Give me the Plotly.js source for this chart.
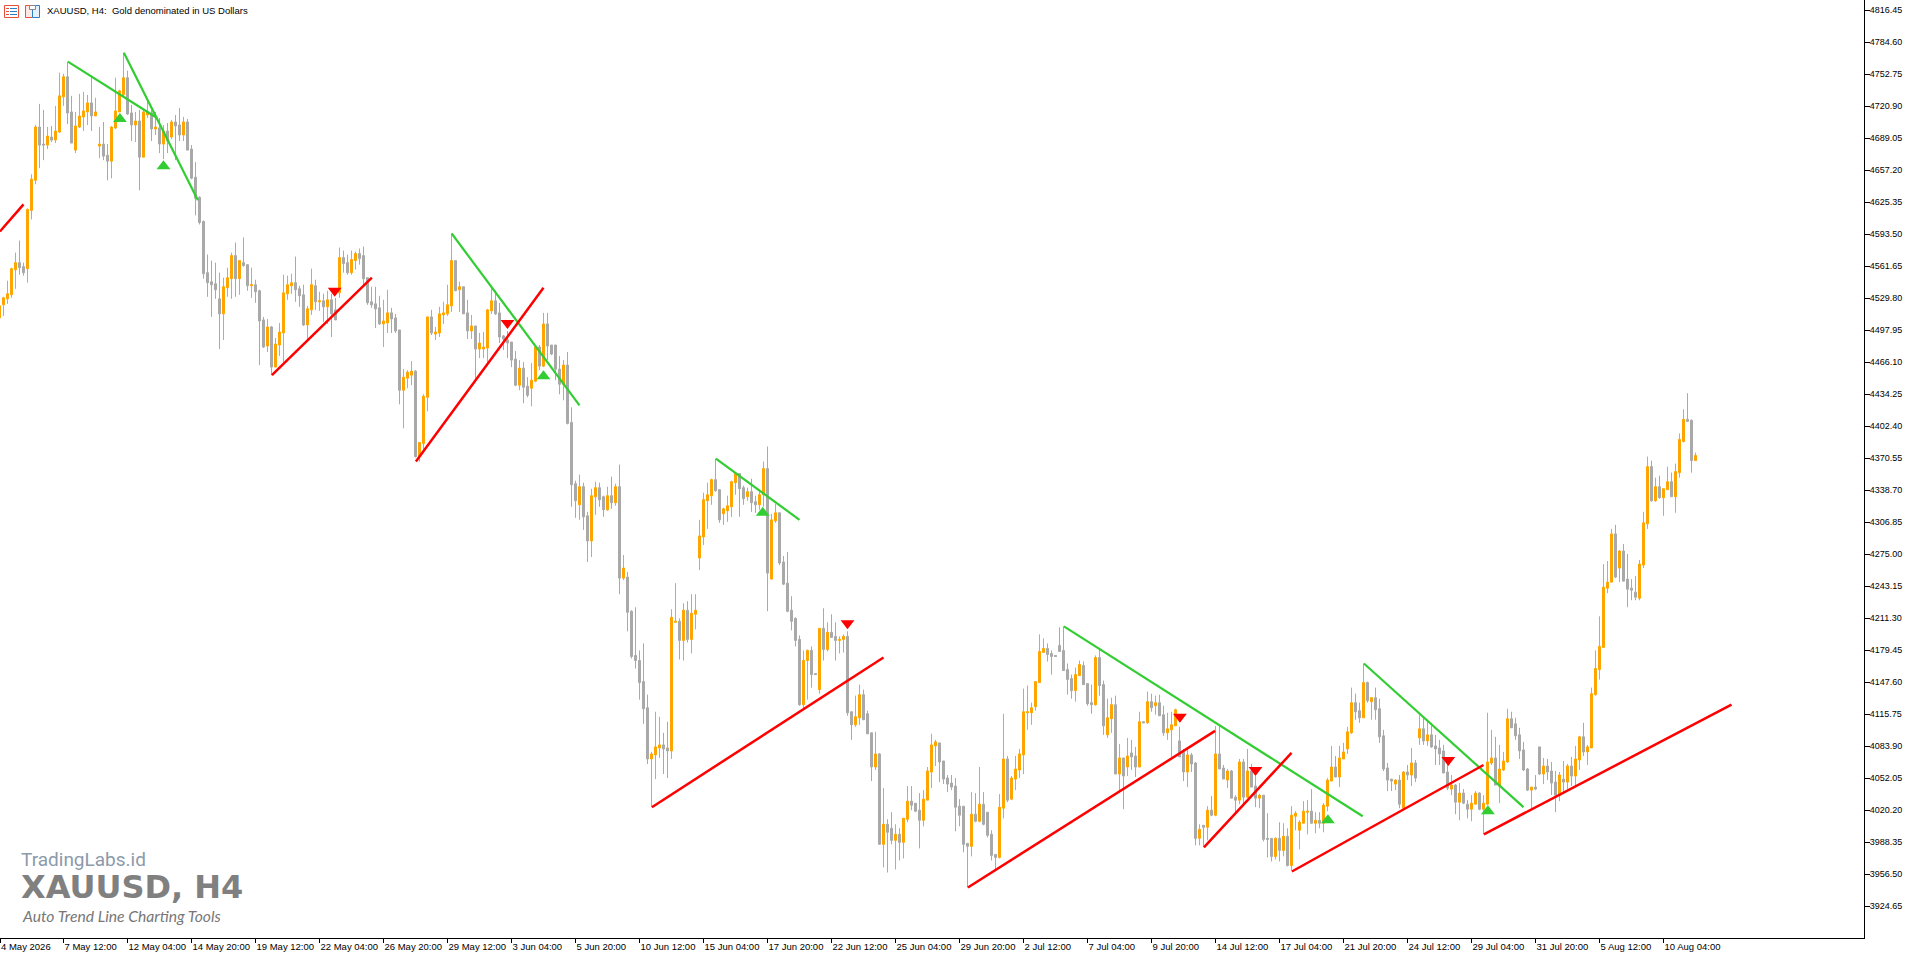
<!DOCTYPE html>
<html><head><meta charset="utf-8">
<script src="https://cdn.plot.ly/plotly-3.0.1.min.js"></script>
<style>html,body{margin:0;padding:0;background:#fff;overflow:hidden}#c{width:1916px;height:959px}</style>
</head><body><div id="c"></div>
<script>
const firstBar = -1;
const openP = [4510,
4523,4529,4533,4558,4565,4561,4559,4617,4647,4700,
4683,4682,4690,4687,4695,4730,4750,4715,4677,4700,
4710,4715,4724,4711,4681,4683,4672,4666,4699,4715,
4732,4749,4714,4702,4706,4670,4712,4714,4698,4699,
4683,4696,4690,4705,4702,4692,4705,4678,4650,4630,
4606,4555,4546,4544,4529,4514,4540,4549,4572,4549,
4565,4563,4542,4543,4537,4508,4482,4501,4461,4483,
4495,4534,4542,4545,4539,4533,4503,4518,4542,4526,
4527,4521,4528,4518,4535,4570,4565,4555,4567,4574,
4572,4550,4526,4524,4520,4504,4505,4515,4510,4498,
4438,4450,4453,4457,4372,4385,4431,4511,4494,4495,
4513,4514,4522,4567,4538,4541,4515,4497,4502,4479,
4479,4480,4517,4527,4515,4492,4488,4486,4469,4443,
4460,4442,4440,4447,4481,4462,4504,4483,4483,4459,
4444,4463,4406,4345,4324,4342,4313,4288,4332,4341,
4332,4319,4333,4326,4342,4251,4252,4218,4174,4169,
4148,4122,4071,4075,4082,4085,4082,4079,4207,4208,
4189,4219,4190,4215,4271,4292,4328,4333,4349,4339,
4315,4318,4322,4346,4355,4341,4332,4337,4327,4324,
4334,4360,4250,4308,4316,4267,4246,4219,4211,4190,
4125,4169,4179,4156,4140,4201,4180,4197,4193,4189,
4190,4193,4118,4105,4112,4135,4116,4097,4063,4076,
3986,4006,4002,3990,3996,3988,4011,4029,4027,4020,
4010,4030,4058,4084,4087,4069,4052,4047,4044,4024,
4024,3987,3984,4016,4009,4026,4018,3996,3976,3973,
4022,4071,4031,4051,4060,4075,4117,4117,4123,4147,
4177,4181,4176,4174,4184,4179,4160,4151,4139,4154,
4164,4146,4127,4125,4172,4145,4095,4111,4125,4056,
4072,4063,4077,4074,4063,4108,4107,4128,4124,4127,
4115,4097,4100,4104,4089,4078,4058,4075,4067,3992,
4005,4003,4020,4015,4076,4062,4050,4059,4033,4030,
4068,4033,4059,4044,4032,4035,3992,3992,3974,3992,
3980,3994,3965,4014,4000,4007,4018,4019,4007,4010,
4007,4024,4049,4063,4053,4071,4081,4097,4127,4119,
4112,4147,4128,4132,4121,4094,4062,4051,4046,4050,
4022,4058,4055,4067,4092,4101,4089,4095,4084,4082,
4079,4058,4041,4045,4028,4037,4026,4021,4026,4037,
4021,4026,4067,4072,4044,4060,4068,4111,4106,4095,
4080,4061,4040,4043,4083,4056,4064,4059,4048,4035,
4051,4048,4064,4054,4070,4093,4078,4082,4135,4160,
4182,4241,4247,4295,4261,4278,4250,4241,4237,4231,
4264,4305,4362,4328,4342,4331,4339,4347,4332,4356,
4387,4409,4408,4368];
const highP = [4524,
4531,4547,4560,4575,4587,4565,4619,4653,4702,4723,
4717,4700,4701,4721,4754,4753,4765,4731,4715,4733,
4735,4732,4750,4729,4700,4705,4683,4701,4749,4737,
4774,4756,4722,4715,4717,4718,4727,4717,4715,4709,
4702,4704,4707,4712,4719,4710,4708,4682,4665,4631,
4607,4573,4567,4565,4555,4550,4560,4575,4585,4567,
4590,4563,4560,4548,4538,4511,4509,4502,4490,4505,
4553,4552,4554,4571,4542,4543,4522,4559,4548,4536,
4534,4537,4534,4530,4580,4577,4573,4577,4576,4579,
4581,4550,4541,4541,4532,4528,4538,4520,4514,4498,
4459,4458,4467,4458,4386,4434,4511,4518,4501,4521,
4526,4543,4594,4567,4546,4541,4528,4513,4502,4495,
4496,4519,4542,4537,4525,4493,4497,4486,4477,4468,
4466,4451,4465,4483,4483,4515,4515,4483,4483,4472,
4468,4476,4421,4348,4354,4346,4317,4340,4347,4346,
4333,4342,4352,4345,4364,4274,4257,4219,4222,4179,
4186,4135,4078,4118,4113,4097,4108,4220,4246,4211,
4226,4228,4235,4235,4309,4336,4346,4350,4370,4339,
4321,4333,4348,4356,4355,4343,4341,4350,4333,4339,
4367,4382,4315,4325,4316,4273,4277,4233,4212,4194,
4179,4180,4183,4156,4201,4221,4207,4215,4207,4193,
4195,4198,4118,4134,4145,4140,4119,4097,4098,4077,
4042,4011,4018,4006,4002,4012,4044,4044,4027,4037,
4040,4063,4096,4090,4087,4069,4055,4055,4052,4031,
4024,3987,4038,4037,4063,4038,4018,4000,3976,4036,
4116,4074,4054,4074,4081,4141,4144,4127,4148,4195,
4191,4186,4179,4174,4202,4203,4166,4155,4162,4169,
4168,4146,4145,4174,4180,4149,4131,4132,4134,4086,
4072,4092,4090,4083,4118,4108,4138,4136,4134,4135,
4124,4117,4118,4121,4103,4081,4081,4077,4068,4006,
4005,4024,4034,4104,4104,4065,4061,4060,4035,4071,
4071,4081,4066,4054,4036,4035,4017,3992,3993,4008,
4007,4002,4024,4019,4010,4029,4030,4041,4018,4018,
4027,4052,4084,4074,4084,4087,4103,4142,4136,4127,
4166,4148,4132,4142,4131,4100,4067,4051,4051,4055,
4059,4065,4082,4070,4115,4112,4110,4104,4095,4090,
4085,4073,4055,4046,4047,4041,4030,4035,4039,4038,
4035,4117,4100,4093,4085,4078,4121,4118,4112,4102,
4088,4062,4043,4055,4083,4072,4071,4068,4059,4058,
4069,4066,4073,4084,4094,4107,4085,4142,4179,4213,
4265,4268,4300,4304,4279,4285,4275,4250,4253,4269,
4317,4372,4368,4351,4353,4340,4362,4356,4365,4395,
4419,4435,4409,4376];
const lowP = [4508,
4512,4524,4530,4539,4553,4552,4545,4608,4643,4659,
4667,4678,4685,4684,4694,4721,4703,4684,4674,4699,
4696,4702,4696,4711,4669,4667,4647,4649,4698,4715,
4731,4712,4686,4685,4637,4670,4709,4686,4692,4674,
4668,4674,4688,4667,4686,4686,4677,4648,4612,4603,
4549,4531,4511,4529,4479,4488,4531,4529,4531,4533,
4561,4537,4530,4525,4463,4480,4476,4453,4461,4472,
4466,4528,4534,4526,4521,4502,4488,4513,4518,4517,
4506,4504,4491,4508,4530,4555,4553,4553,4558,4563,
4541,4523,4520,4500,4503,4481,4495,4495,4495,4424,
4400,4440,4443,4371,4367,4376,4417,4493,4488,4491,
4504,4512,4516,4537,4516,4514,4489,4489,4447,4470,
4470,4463,4514,4513,4485,4478,4470,4461,4442,4438,
4425,4431,4422,4446,4458,4461,4468,4473,4448,4434,
4428,4404,4322,4311,4309,4299,4267,4272,4314,4322,
4312,4318,4320,4323,4235,4249,4198,4171,4161,4130,
4106,4066,4023,4051,4072,4056,4052,4071,4207,4170,
4169,4187,4176,4200,4259,4284,4300,4324,4337,4306,
4304,4307,4312,4334,4312,4324,4328,4317,4316,4319,
4322,4218,4250,4306,4264,4244,4217,4199,4183,4124,
4120,4130,4142,4155,4136,4169,4178,4192,4169,4176,
4177,4114,4090,4103,4105,4110,4096,4049,4060,3986,
3963,3958,3986,3961,3970,3972,4008,4020,4018,3982,
4004,4030,4042,4064,4048,4046,4038,4040,3999,4004,
3978,3943,3974,4008,4008,4005,3993,3970,3960,3972,
4012,4028,4030,4040,4052,4056,4100,4105,4119,4147,
4177,4168,4155,4173,4178,4159,4135,4131,4128,4154,
4145,4124,4116,4124,4134,4095,4092,4097,4056,4039,
4021,4054,4060,4053,4063,4107,4106,4118,4115,4114,
4094,4090,4073,4104,4073,4049,4043,4058,3985,3985,
3984,3990,4014,4014,4061,4051,4042,4032,4017,4026,
4025,4032,4043,4023,4022,3989,3973,3969,3971,3969,
3974,3964,3960,4000,3981,4007,3996,4007,3997,4002,
3998,4019,4049,4053,4043,4071,4076,4096,4110,4107,
4112,4127,4110,4110,4087,4059,4039,4039,4040,4022,
4020,4050,4044,4048,4085,4085,4084,4082,4065,4065,
4057,4040,4035,4016,4010,4026,4012,4009,4026,4020,
3996,4025,4065,4045,4027,4059,4067,4102,4090,4071,
4059,4039,4020,4040,4055,4046,4050,4035,4018,4029,
4038,4041,4044,4044,4060,4074,4065,4082,4134,4150,
4182,4236,4247,4251,4247,4248,4222,4229,4229,4229,
4261,4300,4327,4327,4330,4313,4339,4332,4316,4351,
4386,4407,4356,4368];
const closeP = [4522,
4530,4534,4559,4565,4560,4555,4618,4648,4700,4682,
4682,4691,4687,4696,4731,4750,4714,4684,4701,4711,
4716,4724,4711,4715,4683,4671,4666,4700,4716,4736,
4749,4713,4702,4706,4670,4715,4715,4698,4700,4683,
4696,4686,4705,4701,4692,4705,4677,4649,4629,4605,
4554,4545,4543,4538,4514,4541,4550,4572,4549,4567,
4562,4542,4543,4536,4507,4481,4501,4461,4484,4496,
4535,4543,4545,4538,4532,4503,4519,4543,4526,4527,
4521,4528,4514,4508,4570,4564,4555,4568,4574,4569,
4549,4525,4523,4519,4504,4507,4515,4509,4497,4438,
4451,4456,4457,4372,4386,4432,4511,4495,4496,4514,
4515,4523,4567,4537,4541,4514,4497,4502,4479,4485,
4481,4518,4527,4514,4491,4489,4485,4468,4443,4460,
4441,4433,4448,4481,4462,4504,4482,4474,4459,4444,
4463,4405,4344,4328,4342,4312,4288,4333,4341,4329,
4319,4333,4326,4342,4251,4261,4217,4173,4169,4147,
4121,4071,4076,4083,4085,4081,4079,4212,4208,4189,
4219,4190,4216,4219,4293,4329,4334,4349,4338,4309,
4320,4323,4347,4355,4340,4330,4337,4326,4324,4334,
4360,4256,4309,4316,4266,4245,4218,4208,4189,4125,
4169,4179,4155,4155,4201,4180,4197,4192,4189,4190,
4193,4117,4105,4113,4135,4110,4096,4063,4076,3986,
4006,3998,3990,3996,3988,4012,4029,4025,4019,4010,
4031,4059,4085,4088,4068,4051,4046,4043,4023,4015,
3986,3984,4016,4009,4026,4006,3995,3975,3973,4023,
4071,4030,4052,4061,4076,4118,4118,4122,4148,4178,
4181,4175,4173,4173,4178,4159,4150,4139,4155,4165,
4145,4126,4125,4172,4144,4104,4112,4125,4056,4072,
4054,4074,4073,4063,4108,4107,4128,4122,4127,4114,
4097,4101,4105,4120,4073,4058,4075,4066,3992,4001,
4003,4020,4015,4076,4061,4051,4059,4032,4030,4068,
4033,4059,4043,4032,4035,3991,3991,3974,3992,3980,
3994,3965,4015,4017,4008,4019,4019,4007,4010,4007,
4025,4050,4063,4053,4072,4078,4098,4127,4118,4112,
4147,4129,4132,4120,4093,4061,4050,4049,4050,4026,
4058,4055,4067,4052,4101,4089,4095,4083,4081,4076,
4057,4042,4045,4028,4037,4027,4021,4027,4037,4021,
4027,4068,4072,4045,4061,4069,4111,4102,4094,4079,
4060,4040,4043,4041,4056,4064,4058,4047,4035,4055,
4048,4064,4054,4071,4093,4078,4083,4136,4161,4183,
4242,4247,4295,4252,4278,4248,4240,4239,4232,4265,
4306,4362,4328,4342,4331,4340,4347,4332,4357,4389,
4409,4407,4368,4373];

const greenLines = [[16.1,4765,38.4,4709],[30.1,4774,48.6,4627],[112.05,4594,144,4423],[178.1,4370,199,4309],[265.1,4203,339.8,4014],[340.1,4166,380,4023]];
const redLines = [[-0.9,4596,5,4623],[67.1,4453,92.1,4550],[103.1,4367,135,4540],[162.1,4023,220,4172],[241.1,3943,302.9,4099],[300.1,3983,322,4077],[322.1,3959,370,4065],[370.1,3996,432,4125]];
const upArrowX = [29.1,40,135,189.8,331.1,371.1];
const upArrowY = [4708,4661,4452,4316,4010,4019];
const downArrowX = [82.8,126,211,294.1,313,361.2];
const downArrowY = [4537,4505,4206,4113,4060,4070];
const priceTicks = [4816.45,4784.60,4752.75,4720.90,4689.05,4657.20,4625.35,4593.50,4561.65,4529.80,4497.95,4466.10,4434.25,4402.40,4370.55,4338.70,4306.85,4275.00,4243.15,4211.30,4179.45,4147.60,4115.75,4083.90,4052.05,4020.20,3988.35,3956.50,3924.65];
const timeTickBars = [-0.87,15,31,47,63,79,95,111,127,143,159,175,191,207,223,239,255,271,287,303,319,335,351,367,383,399,415];
const timeTickLabels = ['4 May 2026','7 May 12:00','12 May 04:00','14 May 20:00','19 May 12:00','22 May 04:00','26 May 20:00','29 May 12:00','3 Jun 04:00','5 Jun 20:00','10 Jun 12:00','15 Jun 04:00','17 Jun 20:00','22 Jun 12:00','25 Jun 04:00','29 Jun 20:00','2 Jul 12:00','7 Jul 04:00','9 Jul 20:00','14 Jul 12:00','17 Jul 04:00','21 Jul 20:00','24 Jul 12:00','29 Jul 04:00','31 Jul 20:00','5 Aug 12:00','10 Aug 04:00'];

const XFONT = {family:'Liberation Sans, Arial, sans-serif', size:9.5, color:'#000'};
const YFONT = {family:'Liberation Sans, Arial, sans-serif', size:9, color:'#000'};
const W = 1864, H = 938;
const px = v => v/W, py = v => 1 - v/H;
const bars = openP.map((_, k) => k + firstBar);
const traces = [{
  type:'candlestick', x:bars, open:openP, high:highP, low:lowP, close:closeP,
  whiskerwidth:0, hoverinfo:'skip',
  increasing:{line:{color:'#FFA500',width:1},fillcolor:'#FFA500'},
  decreasing:{line:{color:'#A9A9A9',width:1},fillcolor:'#A9A9A9'}
}];
const addLine = (seg,color,width) => traces.push({type:'scatter',mode:'lines',x:[seg[0],seg[2]],y:[seg[1],seg[3]],line:{color,width},hoverinfo:'skip'});
greenLines.forEach(s => addLine(s,'#32CD32',2.2));
redLines.forEach(s => addLine(s,'#FF0000',2.5));
traces.push({type:'scatter',mode:'markers',x:upArrowX,y:upArrowY,marker:{symbol:'triangle-up',size:12,color:'#32CD32',line:{width:0}},hoverinfo:'skip'});
traces.push({type:'scatter',mode:'markers',x:downArrowX,y:downArrowY,marker:{symbol:'triangle-down',size:12,color:'#FF0000',line:{width:0}},hoverinfo:'skip'});

const box = (x0,y0,x1,y1,color,fill) => ({type:'rect',xref:'paper',yref:'paper',x0:px(x0),x1:px(x1),y0:py(y0),y1:py(y1),line:{color,width:1},fillcolor:fill||'rgba(0,0,0,0)'});
const dash = (x0,y,x1,color) => ({type:'line',xref:'paper',yref:'paper',x0:px(x0),x1:px(x1),y0:py(y),y1:py(y),line:{color,width:1}});
const icons = [
  box(4.5,5.5,18.5,17.5,'#E8503A','#fff'),
  dash(6,8.5,9,'#E8503A'),dash(10,8.5,17,'#2A7FC9'),
  dash(6,11.5,9,'#E8503A'),dash(10,11.5,17,'#2A7FC9'),
  dash(6,14.5,9,'#E8503A'),dash(10,14.5,17,'#2A7FC9'),
  box(25.5,5.5,32.5,17.5,'#E8503A','#fde8e4'),
  box(32.5,5.5,39.5,17.5,'#2A7FC9','#e4f0fb'),
  box(29.5,5.5,35.5,9.5,'#888','#fff')
];
const note = (x,y,text,font) => ({xref:'paper',yref:'paper',x:px(x),y:py(y),xanchor:'left',yanchor:'middle',showarrow:false,text,font});
const layout = {
  width:1916, height:959, paper_bgcolor:'#fff', plot_bgcolor:'#fff',
  margin:{l:0,r:52,t:0,b:21}, showlegend:false, hovermode:false, boxgap:0.5, boxgroupgap:0,
  xaxis:{type:'linear',range:[-0.875,465.125],rangeslider:{visible:false},showgrid:false,zeroline:false,
    tickmode:'array',tickvals:timeTickBars,ticktext:timeTickLabels,ticks:'outside',ticklen:4,tickcolor:'#000',tickwidth:1,
    ticklabelposition:'outside right',tickfont:XFONT,tickangle:0,showline:true,linecolor:'#000',linewidth:1,fixedrange:true},
  yaxis:{range:[3892.8,4826.4],side:'right',showgrid:false,zeroline:false,
    tickmode:'array',tickvals:priceTicks,tickformat:'.2f',ticks:'outside',ticklen:5,tickcolor:'#000',tickwidth:1,
    ticklabelstandoff:-2,tickfont:YFONT,showline:true,linecolor:'#000',linewidth:1,fixedrange:true},
  shapes:icons,
  annotations:[
    note(45,10,'XAUUSD, H4:  Gold denominated in US Dollars',{family:'Liberation Sans, Arial, sans-serif',size:9.5,color:'#000'}),
    note(19,859,'TradingLabs.id',{family:'Roboto, sans-serif',size:19,color:'#8C9AAB'}),
    note(19,887,'<b>XAUUSD, H4</b>',{family:'DejaVu Sans, sans-serif',size:32,color:'#808080'}),
    note(20,916,'<i>Auto Trend Line Charting Tools</i>',{family:'Lato, sans-serif',size:15.7,color:'#777'})
  ]
};
Plotly.newPlot('c',traces,layout,{staticPlot:true,displayModeBar:false});
</script></body></html>
